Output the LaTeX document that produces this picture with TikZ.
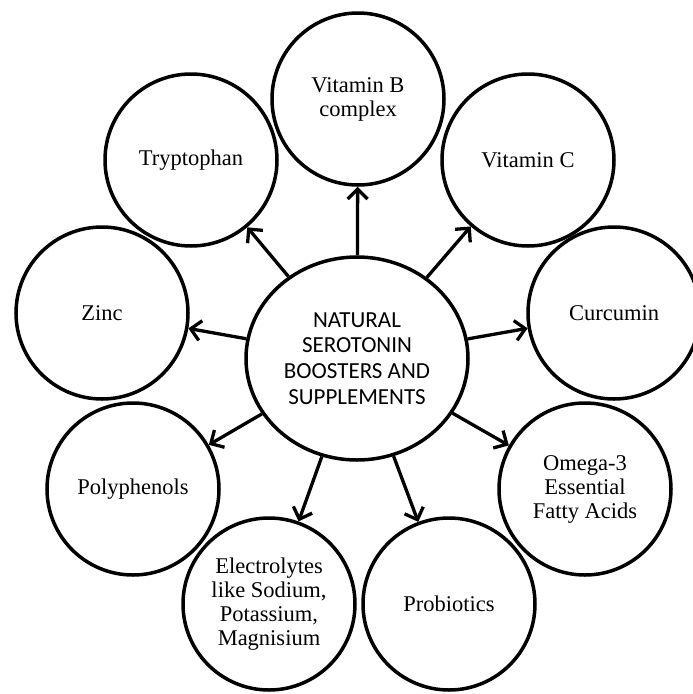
\documentclass[tikz,border=0pt]{standalone}
\usepackage{fontspec}
\setmainfont{Liberation Serif}
\newfontfamily\carlitofont{Carlito}
\usetikzlibrary{shapes.geometric,arrows.meta}
\tikzset{
  outer/.style={circle,draw,line width=3.5pt,minimum size=172pt,inner sep=0pt,align=center,
    font=\fontsize{22.5}{24}\selectfont},
  hub/.style={ellipse,draw,line width=3.5pt,minimum width=222pt,minimum height=203pt,inner sep=0pt,
    align=center,font=\carlitofont\fontsize{23}{25.7}\selectfont},
  arr/.style={line width=3.3pt,-{Straight Barb[length=10pt,width=20pt,line width=3.3pt]}}
}
\begin{document}
\begin{tikzpicture}[x=1pt,y=-1pt]
\useasboundingbox (0,0) rectangle (693,694);
\node[hub] (c) at (357,358.5) {NATURAL\\SEROTONIN\\BOOSTERS AND\\SUPPLEMENTS};
\node[outer] (vb) at (358,99) {Vitamin B\\complex};
\node[outer] (tr) at (191,160) {Tryptophan};
\node[outer] (vc) at (528,160) {Vitamin C};
\node[outer] (zn) at (102,313) {Zinc};
\node[outer] (cu) at (614,313) {Curcumin};
\node[outer] (po) at (133,489) {Polyphenols};
\node[outer] (om) at (585,489) {Omega-3\\Essential\\Fatty Acids};
\node[outer] (el) at (269,604) {Electrolytes\\like Sodium,\\Potassium,\\Magnisium};
\node[outer] (pr) at (449,604) {Probiotics};
\foreach \t in {vb,tr,vc,zn,cu,po,om,el,pr}
  \draw[arr] (c) -- (\t);
\end{tikzpicture}
\end{document}
